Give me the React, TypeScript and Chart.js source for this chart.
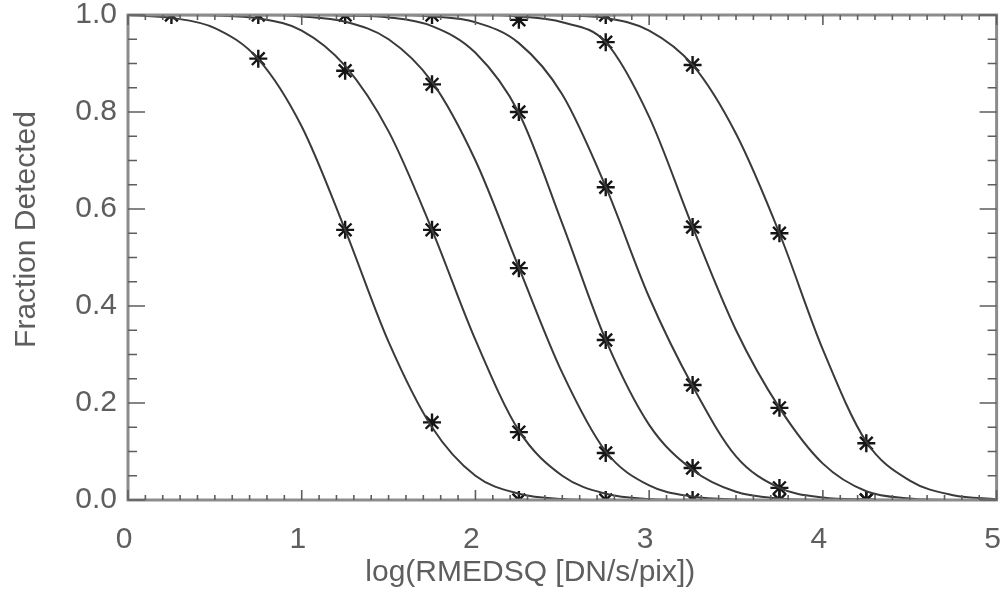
import { useEffect, useRef } from 'react';
import { Chart, registerables } from 'chart.js';

Chart.register(...registerables);

// ---- data ----
const xGrid = [0, 0.25, 0.5, 0.75, 1, 1.25, 1.5, 1.75, 2, 2.25, 2.5, 2.75, 3, 3.25, 3.5, 3.75, 4, 4.25, 4.5, 4.75, 5];

const curve1 = [1, 0.994, 0.973, 0.909, 0.77, 0.557, 0.326, 0.15, 0.05, 0.013, 0.002, 0, 0, 0, 0, 0, 0, 0, 0, 0, 0];
const curve2 = [1, 1, 0.999, 0.993, 0.968, 0.895, 0.76, 0.557, 0.33, 0.143, 0.05, 0.013, 0.002, 0, 0, 0, 0, 0, 0, 0, 0];
const curve3 = [1, 1, 1, 1, 0.997, 0.986, 0.95, 0.862, 0.7, 0.479, 0.262, 0.1, 0.03, 0.007, 0.001, 0, 0, 0, 0, 0, 0];
const curve4 = [1, 1, 1, 1, 1, 0.999, 0.995, 0.977, 0.922, 0.798, 0.57, 0.33, 0.155, 0.062, 0.017, 0.003, 0, 0, 0, 0, 0];
const curve5 = [1, 1, 1, 1, 1, 1, 1, 0.997, 0.985, 0.942, 0.836, 0.646, 0.418, 0.235, 0.09, 0.025, 0.005, 0.001, 0, 0, 0];
const curve6 = [1, 1, 1, 1, 1, 1, 1, 1, 1, 0.997, 0.985, 0.944, 0.79, 0.563, 0.35, 0.19, 0.075, 0.018, 0.003, 0, 0];
const curve7 = [1, 1, 1, 1, 1, 1, 1, 1, 1, 1, 0.999, 0.994, 0.968, 0.897, 0.755, 0.55, 0.31, 0.12, 0.04, 0.01, 0.002];

const obsX1 = [0.25, 0.75, 1.25, 1.75, 2.25];
const obsY1 = [1.0, 0.91, 0.557, 0.16, 0.0];
const obsX2 = [0.75, 1.25, 1.75, 2.25, 2.75];
const obsY2 = [1.0, 0.885, 0.557, 0.14, 0.0];
const obsX3 = [1.25, 1.75, 2.25, 2.75, 3.25];
const obsY3 = [1.0, 0.857, 0.478, 0.097, 0.0];
const obsX4 = [1.75, 2.25, 2.75, 3.25, 3.75];
const obsY4 = [1.0, 0.8, 0.33, 0.066, 0.0];
const obsX5 = [2.75, 3.25, 3.75, 4.25];
const obsY5 = [0.645, 0.237, 0.025, 0.0];
const obsX6 = [2.25, 2.75, 3.25, 3.75, 4.25];
const obsY6 = [0.99, 0.944, 0.563, 0.19, 0.0];
const obsX7 = [2.75, 3.25, 3.75, 4.25];
const obsY7 = [1.0, 0.897, 0.55, 0.117];

const xTickValues = [0, 1, 2, 3, 4, 5];
const yTickValues = [0, 0.2, 0.4, 0.6, 0.8, 1.0];
const xMinorStep = 0.1;
const yMinorStep = 0.05;

const xTitle = 'log(RMEDSQ [DN/s/pix])';
const yTitle = 'Fraction Detected';

const curves = [curve1, curve2, curve3, curve4, curve5, curve6, curve7];
const obs = [
  [obsX1, obsY1],
  [obsX2, obsY2],
  [obsX3, obsY3],
  [obsX4, obsY4],
  [obsX5, obsY5],
  [obsX6, obsY6],
  [obsX7, obsY7],
];

const FONT = '"Liberation Sans", Arial, sans-serif';
const TEXT_COLOR = '#5e5e5e';

const idlAxes = {
  id: 'idlAxes',
  afterDatasetsDraw(chart: any) {
    const { ctx, chartArea, scales } = chart;
    const { left, right, top, bottom } = chartArea;
    const xs = scales.x;
    const ys = scales.y;
    ctx.save();
    // frame
    ctx.strokeStyle = '#8c8c8c';
    ctx.lineWidth = 3;
    ctx.strokeRect(left, top, right - left, bottom - top);
    // ticks
    ctx.strokeStyle = '#5e5e5e';
    ctx.lineWidth = 1.6;
    ctx.beginPath();
    const xMin = xs.min, xMax = xs.max;
    const nx = Math.round((xMax - xMin) / xMinorStep);
    for (let i = 0; i <= nx; i++) {
      const v = xMin + i * xMinorStep;
      const px = xs.getPixelForValue(v);
      const major = xTickValues.some((t) => Math.abs(t - v) < 1e-6);
      const len = major ? 10 : 5;
      ctx.moveTo(px, bottom);
      ctx.lineTo(px, bottom - len);
      ctx.moveTo(px, top);
      ctx.lineTo(px, top + len);
    }
    const yMin = ys.min, yMax = ys.max;
    const ny = Math.round((yMax - yMin) / yMinorStep);
    for (let i = 0; i <= ny; i++) {
      const v = yMin + i * yMinorStep;
      const py = ys.getPixelForValue(v);
      const major = yTickValues.some((t) => Math.abs(t - v) < 1e-6);
      const len = major ? 17 : 9;
      ctx.moveTo(left, py);
      ctx.lineTo(left + len, py);
      ctx.moveTo(right, py);
      ctx.lineTo(right - len, py);
    }
    ctx.stroke();

    // axis titles
    ctx.fillStyle = TEXT_COLOR;
    ctx.font = `30px ${FONT}`;
    ctx.textAlign = 'center';
    ctx.textBaseline = 'middle';
    ctx.fillText(xTitle, (left + right) / 2 - 32, 573);
    ctx.translate(27, (top + bottom) / 2 - 28);
    ctx.rotate(-Math.PI / 2);
    ctx.fillText(yTitle, 0, 0);
    ctx.restore();
  },
};

const zeroPadding = (scale: any) => {
  scale.paddingTop = 0;
  scale.paddingBottom = 0;
  scale.paddingLeft = 0;
  scale.paddingRight = 0;
};

export default function App() {
  const ref = useRef<HTMLCanvasElement | null>(null);

  useEffect(() => {
    if (!ref.current) return;
    const datasets: any[] = [];
    curves.forEach((c) => {
      datasets.push({
        data: xGrid.map((x, i) => ({ x, y: c[i] })),
        showLine: true,
        borderColor: '#3a3a3a',
        borderWidth: 2,
        pointRadius: 0,
        pointHoverRadius: 0,
        cubicInterpolationMode: 'monotone',
        clip: 0,
      });
    });
    obs.forEach(([ox, oy]) => {
      datasets.push({
        data: ox.map((x, i) => ({ x, y: oy[i] })),
        showLine: false,
        pointStyle: 'star',
        pointRadius: 9,
        pointBorderWidth: 2.4,
        borderColor: '#151515',
        backgroundColor: '#151515',
        pointBorderColor: '#151515',
        clip: 0,
      });
    });

    const chart = new Chart(ref.current, {
      type: 'scatter',
      data: { datasets },
      plugins: [idlAxes],
      options: {
        animation: false,
        responsive: true,
        maintainAspectRatio: false,
        events: [],
        layout: { padding: { top: 15, right: 11, left: 0, bottom: 0 } },
        plugins: {
          legend: { display: false },
          tooltip: { enabled: false },
        },
        scales: {
          x: {
            type: 'linear',
            min: 0,
            max: 5,
            grid: { display: false, drawTicks: false },
            border: { display: false },
            afterBuildTicks: (scale: any) => {
              scale.ticks = xTickValues.map((v) => ({ value: v }));
            },
            afterFit: (scale: any) => {
              scale.height = 103;
              zeroPadding(scale);
            },
            ticks: {
              padding: 22,
              labelOffset: -4,
              color: TEXT_COLOR,
              font: { family: FONT, size: 30 },
              maxRotation: 0,
              autoSkip: false,
              callback: (v: any) => String(v),
            },
          },
          y: {
            type: 'linear',
            min: 0,
            max: 1,
            grid: { display: false, drawTicks: false },
            border: { display: false },
            afterBuildTicks: (scale: any) => {
              scale.ticks = yTickValues.map((v) => ({ value: v }));
            },
            afterFit: (scale: any) => {
              scale.width = 128;
              zeroPadding(scale);
            },
            ticks: {
              padding: 11,
              color: TEXT_COLOR,
              font: { family: FONT, size: 30 },
              autoSkip: false,
              callback: (v: any) => Number(v).toFixed(1),
            },
          },
        },
      },
    });
    return () => chart.destroy();
  }, []);

  return (
    <div style={{ position: 'absolute', left: 0, top: 0, width: 1008, height: 603, background: '#fff' }}>
      <canvas ref={ref} />
    </div>
  );
}
